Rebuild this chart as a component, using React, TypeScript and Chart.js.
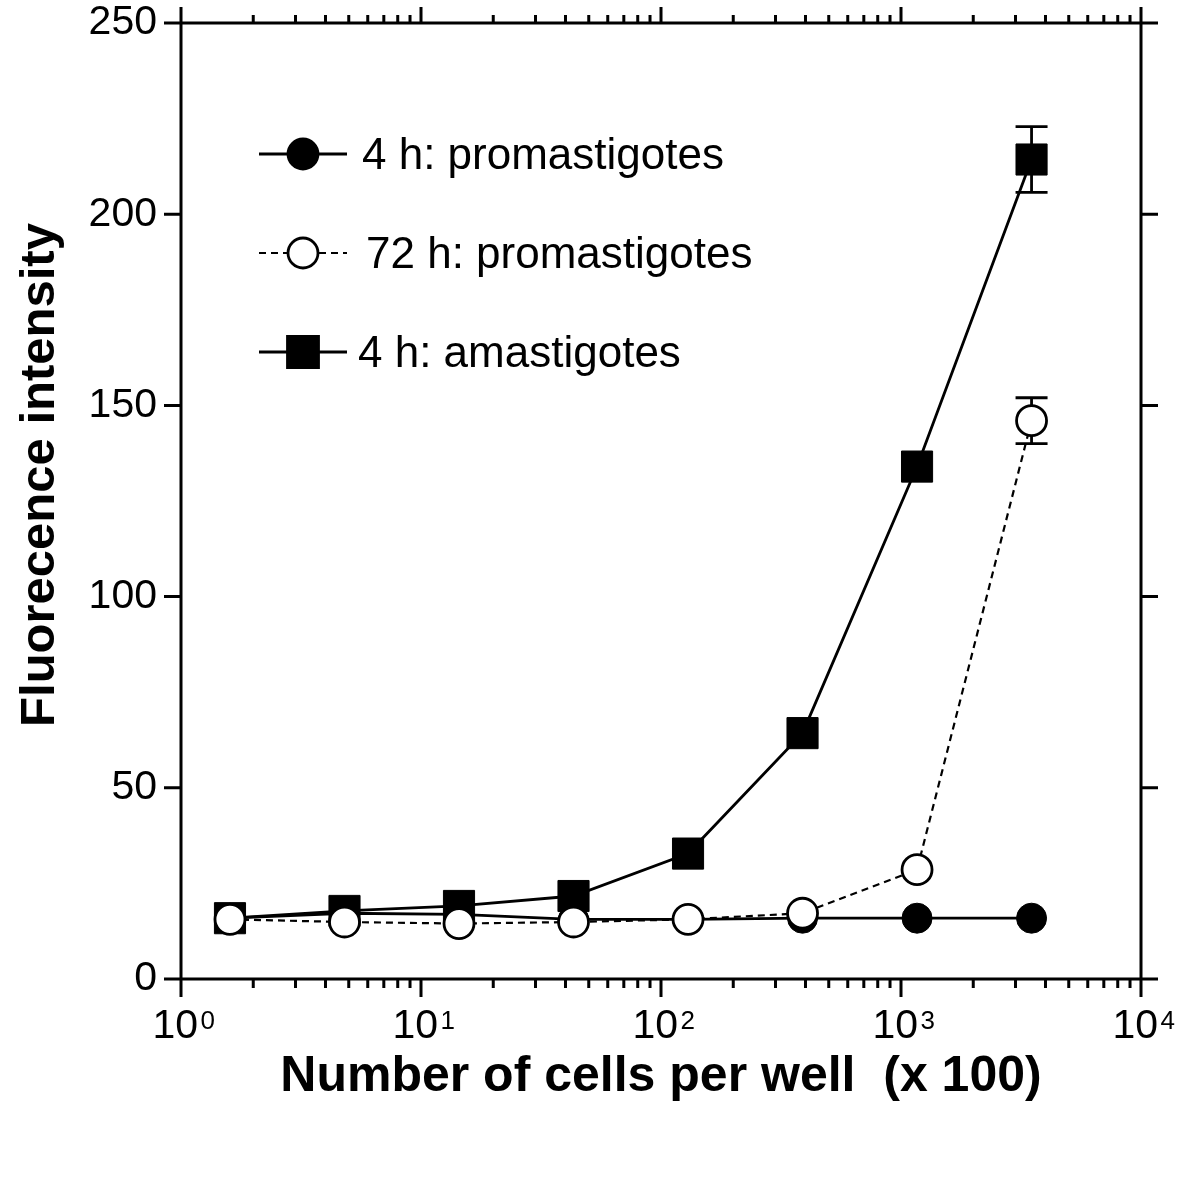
import React, { useEffect, useRef } from 'react';
import { Chart, registerables } from 'chart.js';

Chart.register(...registerables);

// ---- data ----
const cellsPerWell = [1.6, 4.8, 14.4, 43.2, 129.6, 388.8, 1166.4, 3499.2];
const promastigotes4h = [15.9, 17.2, 16.9, 15.6, 15.6, 15.9, 15.9, 15.9];
const promastigotes72h = [15.6, 14.9, 14.5, 14.9, 15.6, 17.2, 28.6, 146];
const promastigotes72hErr = [0, 0, 0, 0, 0, 0, 0, 6];
const amastigotes4h = [15.9, 17.8, 19.1, 21.7, 32.8, 64.3, 134, 214.3];
const amastigotes4hErr = [0, 0, 0, 0, 0, 0, 0, 8.6];
const seriesLabels = ['4 h: promastigotes', '72 h: promastigotes', '4 h: amastigotes'];
const yTickValues = [0, 50, 100, 150, 200, 250];
const xDecadeExps = [0, 1, 2, 3, 4];
const xTitle = 'Number of cells per well  (x 100)';
const yTitle = 'Fluorecence intensity';

const FONT = '"Liberation Sans", Arial, Helvetica, sans-serif';

const errorBarPlugin = {
  id: 'errorBars',
  beforeDatasetsDraw(chart: any) {
    const { ctx, scales } = chart;
    const x = scales.x;
    const y = scales.y;
    const sets = [
      { vals: promastigotes72h, errs: promastigotes72hErr },
      { vals: amastigotes4h, errs: amastigotes4hErr },
    ];
    ctx.save();
    ctx.strokeStyle = '#000';
    ctx.lineWidth = 2.8;
    ctx.setLineDash([]);
    sets.forEach((s) => {
      s.vals.forEach((v, i) => {
        const e = s.errs[i];
        if (!e) return;
        const px = x.getPixelForValue(cellsPerWell[i]);
        const top = y.getPixelForValue(v + e);
        const bot = y.getPixelForValue(v - e);
        ctx.beginPath();
        ctx.moveTo(px, top);
        ctx.lineTo(px, bot);
        ctx.moveTo(px - 16, top);
        ctx.lineTo(px + 16, top);
        ctx.moveTo(px - 16, bot);
        ctx.lineTo(px + 16, bot);
        ctx.stroke();
      });
    });
    ctx.restore();
  },
};

const framePlugin = {
  id: 'frameAxes',
  afterDraw(chart: any) {
    const { ctx, chartArea: a, scales } = chart;
    const x = scales.x;
    const y = scales.y;
    ctx.save();
    ctx.strokeStyle = '#000';
    ctx.lineWidth = 3;
    ctx.setLineDash([]);
    ctx.lineCap = 'butt';
    ctx.beginPath();
    ctx.rect(a.left, a.top, a.right - a.left, a.bottom - a.top);
    yTickValues.forEach((v) => {
      const py = y.getPixelForValue(v);
      ctx.moveTo(a.left - 17, py);
      ctx.lineTo(a.left, py);
      ctx.moveTo(a.right, py);
      ctx.lineTo(a.right + 17, py);
    });
    for (let d = 0; d < 4; d++) {
      for (let m = 1; m <= 9; m++) {
        const px = x.getPixelForValue(m * Math.pow(10, d));
        const major = m === 1;
        ctx.moveTo(px, a.bottom);
        ctx.lineTo(px, a.bottom + (major ? 18 : 9));
        ctx.moveTo(px, a.top);
        ctx.lineTo(px, a.top - (major ? 16 : 8));
      }
    }
    const pxEnd = x.getPixelForValue(10000);
    ctx.moveTo(pxEnd, a.bottom);
    ctx.lineTo(pxEnd, a.bottom + 18);
    ctx.moveTo(pxEnd, a.top);
    ctx.lineTo(pxEnd, a.top - 16);
    ctx.stroke();

    // x tick labels: 10 with superscript exponent
    ctx.fillStyle = '#000';
    ctx.textAlign = 'left';
    ctx.textBaseline = 'alphabetic';
    xDecadeExps.forEach((e) => {
      const px = x.getPixelForValue(Math.pow(10, e));
      ctx.font = `41px ${FONT}`;
      ctx.fillText('10', px - 28.5, 1038);
      ctx.font = `26px ${FONT}`;
      ctx.fillText(String(e), px + 19.5, 1029);
    });

    // y axis title
    ctx.save();
    ctx.translate(40, 475);
    ctx.rotate(-Math.PI / 2);
    ctx.font = `bold 49px ${FONT}`;
    ctx.textAlign = 'center';
    ctx.textBaseline = 'middle';
    ctx.fillText(yTitle, 0, 0);
    ctx.restore();

    ctx.restore();
  },
};

const legendPlugin = {
  id: 'insideLegend',
  afterDraw(chart: any) {
    const { ctx } = chart;
    const rows = [
      { label: seriesLabels[0], y: 154, marker: 'circle', fill: '#000', dash: [] as number[], tx: 362 },
      { label: seriesLabels[1], y: 253, marker: 'circle', fill: '#fff', dash: [7, 5], tx: 366 },
      { label: seriesLabels[2], y: 352, marker: 'rect', fill: '#000', dash: [] as number[], tx: 358 },
    ];
    ctx.save();
    rows.forEach((r) => {
      ctx.strokeStyle = '#000';
      ctx.lineWidth = r.dash.length ? 2.2 : 2.8;
      ctx.setLineDash(r.dash);
      ctx.beginPath();
      ctx.moveTo(259, r.y);
      ctx.lineTo(347, r.y);
      ctx.stroke();
      ctx.setLineDash([]);
      ctx.lineWidth = 2.8;
      ctx.fillStyle = r.fill;
      ctx.beginPath();
      if (r.marker === 'circle') {
        ctx.arc(303, r.y, 15, 0, Math.PI * 2);
      } else {
        ctx.rect(303 - 15.5, r.y - 15.5, 31, 31);
      }
      ctx.fill();
      ctx.stroke();
      ctx.fillStyle = '#000';
      ctx.font = `44px ${FONT}`;
      ctx.textAlign = 'left';
      ctx.textBaseline = 'middle';
      ctx.fillText(r.label, r.tx, r.y + 3);
    });
    ctx.restore();
  },
};

function toPoints(vals: number[]) {
  return cellsPerWell.map((c, i) => ({ x: c, y: vals[i] }));
}

export default function App() {
  const canvasRef = useRef<HTMLCanvasElement | null>(null);

  useEffect(() => {
    const canvas = canvasRef.current;
    if (!canvas) return;
    const chart = new Chart(canvas, {
      type: 'scatter',
      data: {
        datasets: [
          {
            label: seriesLabels[1],
            data: toPoints(promastigotes72h),
            showLine: true,
            borderColor: '#000',
            borderWidth: 2.2,
            borderDash: [7, 5],
            pointStyle: 'circle',
            pointRadius: 15,
            pointHoverRadius: 15,
            pointBackgroundColor: '#fff',
            pointBorderColor: '#000',
            pointBorderWidth: 2.8,
            order: 0,
          },
          {
            label: seriesLabels[0],
            data: toPoints(promastigotes4h),
            showLine: true,
            borderColor: '#000',
            borderWidth: 2.8,
            pointStyle: 'circle',
            pointRadius: 15,
            pointHoverRadius: 15,
            pointBackgroundColor: '#000',
            pointBorderColor: '#000',
            pointBorderWidth: 1,
            order: 1,
          },
          {
            label: seriesLabels[2],
            data: toPoints(amastigotes4h),
            showLine: true,
            borderColor: '#000',
            borderWidth: 2.8,
            pointStyle: 'rect',
            pointRadius: 22,
            pointHoverRadius: 22,
            pointBackgroundColor: '#000',
            pointBorderColor: '#000',
            pointBorderWidth: 1,
            order: 2,
          },
        ],
      },
      options: {
        responsive: false,
        animation: false,
        devicePixelRatio: 1,
        layout: { padding: { top: 18, right: 59, left: 0, bottom: 0 } },
        plugins: {
          legend: { display: false },
          tooltip: { enabled: false },
          title: { display: false },
        },
        scales: {
          x: {
            type: 'logarithmic',
            position: 'bottom',
            min: 1,
            max: 10000,
            grid: { display: false, drawTicks: false },
            border: { display: false },
            ticks: { display: false },
            title: {
              display: true,
              text: xTitle,
              color: '#000',
              font: { family: FONT, size: 50, weight: 'bold' },
              padding: { top: 0, bottom: 93 },
            },
            afterFit: (scale: any) => {
              scale.height = 221;
              scale.paddingLeft = 0;
              scale.paddingRight = 0;
            },
          },
          y: {
            type: 'linear',
            position: 'left',
            min: 0,
            max: 250,
            grid: { display: false, drawTicks: false },
            border: { display: false },
            ticks: {
              stepSize: 50,
              padding: 24,
              color: '#000',
              font: { family: FONT, size: 41 },
            },
            title: { display: false },
            afterFit: (scale: any) => {
              scale.width = 181;
              scale.paddingTop = 0;
              scale.paddingBottom = 0;
            },
          },
        },
      },
      plugins: [errorBarPlugin, framePlugin, legendPlugin],
    });
    return () => chart.destroy();
  }, []);

  return (
    <div style={{ position: 'absolute', left: 0, top: 0, width: 1200, height: 1200, background: '#fff' }}>
      <canvas ref={canvasRef} width={1200} height={1200} style={{ display: 'block', width: 1200, height: 1200 }} />
    </div>
  );
}
